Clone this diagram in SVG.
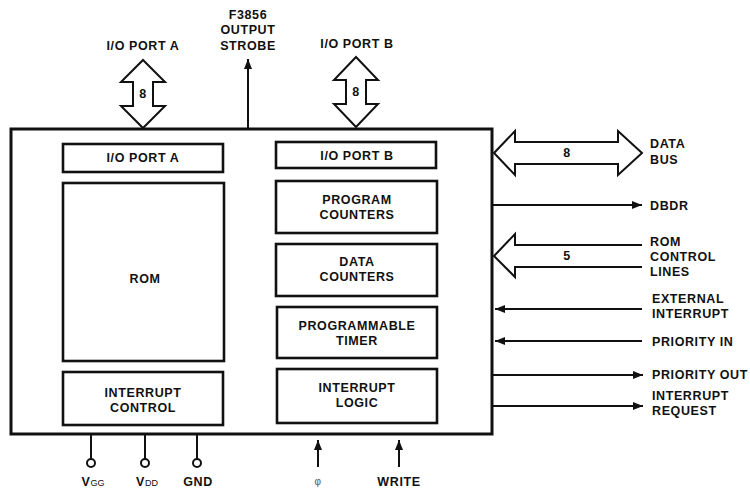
<svg xmlns="http://www.w3.org/2000/svg" width="750" height="488" viewBox="0 0 750 488">
<defs>
<style>
text{font-family:"Liberation Sans",Arial,sans-serif;font-weight:bold;font-size:12.5px;letter-spacing:0.6px;fill:#111}
.c{text-anchor:middle}
.box{fill:#fff;stroke:#111;stroke-width:2.6}
.ln{fill:none;stroke:#111;stroke-width:2}
.bus{fill:#fff;stroke:#111;stroke-width:2;stroke-linejoin:miter}
.sub{font-size:9px;font-weight:normal;letter-spacing:0}
</style>
<marker id="ah" viewBox="0 0 10 8" refX="10" refY="4" markerWidth="10" markerHeight="8" markerUnits="userSpaceOnUse" orient="auto">
<path d="M0,0 L10,4 L0,8 Z" fill="#111"/>
</marker>
</defs>
<rect width="750" height="488" fill="#fff"/>
<g id="chip">
<rect x="11" y="129" width="481" height="305" fill="#fff" stroke="#111" stroke-width="3"/>
</g>
<g id="ioa"><rect class="box" x="63" y="144" width="160" height="28"/><text class="c" x="143" y="162">I/O PORT A</text></g>
<g id="rom"><rect class="box" x="63" y="183" width="161" height="178"/><text class="c" x="145" y="283">ROM</text></g>
<g id="intctl"><rect class="box" x="63" y="372" width="160" height="53"/><text class="c" x="143" y="397">INTERRUPT</text><text class="c" x="143" y="412">CONTROL</text></g>
<g id="iob"><rect class="box" x="276" y="142" width="160" height="26"/><text class="c" x="357" y="160">I/O PORT B</text></g>
<g id="pc"><rect class="box" x="276" y="181" width="161" height="52"/><text class="c" x="357" y="204">PROGRAM</text><text class="c" x="357" y="219">COUNTERS</text></g>
<g id="dc"><rect class="box" x="276" y="244" width="161" height="52"/><text class="c" x="357" y="266">DATA</text><text class="c" x="357" y="281">COUNTERS</text></g>
<g id="timer"><rect class="box" x="277" y="307" width="160" height="51"/><text class="c" x="357" y="330">PROGRAMMABLE</text><text class="c" x="357" y="345">TIMER</text></g>
<g id="intlog"><rect class="box" x="277" y="369" width="160" height="54"/><text class="c" x="357" y="392">INTERRUPT</text><text class="c" x="357" y="407">LOGIC</text></g>
<g id="connectors">
<polygon class="bus" points="143,60 165,82 153,82 153,106 165,106 143,128 121,106 133,106 133,82 121,82"/>
<polygon class="bus" points="356,57 378,80 366,80 366,104 378,104 356,127 334,104 346,104 346,80 334,80"/>
<line class="ln" x1="248" y1="128" x2="248" y2="59" marker-end="url(#ah)"/>
<polygon class="bus" points="494,153 515,131 515,142 618,142 618,131 642,153 618,175 618,164 515,164 515,175"/>
<line class="ln" x1="493" y1="205" x2="642" y2="205" marker-end="url(#ah)"/>
<polyline class="bus" points="642,245 515,245 515,234 494,256 515,277 515,267 642,267"/>
<line class="ln" x1="642" y1="309" x2="495" y2="309" marker-end="url(#ah)"/>
<line class="ln" x1="642" y1="341" x2="495" y2="341" marker-end="url(#ah)"/>
<line class="ln" x1="493" y1="375" x2="643" y2="375" marker-end="url(#ah)"/>
<line class="ln" x1="493" y1="406" x2="643" y2="406" marker-end="url(#ah)"/>
<line class="ln" x1="91" y1="434" x2="91" y2="459"/>
<circle cx="91" cy="463" r="4" fill="#fff" stroke="#111" stroke-width="2"/>
<line class="ln" x1="145" y1="434" x2="145" y2="459"/>
<circle cx="145" cy="463" r="4" fill="#fff" stroke="#111" stroke-width="2"/>
<line class="ln" x1="197" y1="434" x2="197" y2="459"/>
<circle cx="197" cy="463" r="4" fill="#fff" stroke="#111" stroke-width="2"/>
<line class="ln" x1="318" y1="467" x2="318" y2="440" marker-end="url(#ah)"/>
<line class="ln" x1="399" y1="467" x2="399" y2="440" marker-end="url(#ah)"/>
</g>
<g id="labels">
<text class="c" x="143" y="50">I/O PORT A</text>
<text class="c" x="248" y="19">F3856</text>
<text class="c" x="248" y="34">OUTPUT</text>
<text class="c" x="248" y="50">STROBE</text>
<text class="c" x="357" y="48">I/O PORT B</text>
<text class="c" x="143" y="98">8</text>
<text class="c" x="356" y="96">8</text>
<text class="c" x="567" y="157">8</text>
<text class="c" x="567" y="260">5</text>
<text x="650" y="148">DATA</text>
<text x="650" y="164">BUS</text>
<text x="650" y="210">DBDR</text>
<text x="650" y="246">ROM</text>
<text x="650" y="261">CONTROL</text>
<text x="650" y="276">LINES</text>
<text x="652" y="303">EXTERNAL</text>
<text x="652" y="318">INTERRUPT</text>
<text x="652" y="346">PRIORITY IN</text>
<text x="652" y="379">PRIORITY OUT</text>
<text x="652" y="400">INTERRUPT</text>
<text x="652" y="415">REQUEST</text>
<text class="c" x="93" y="486">V<tspan class="sub">GG</tspan></text>
<text class="c" x="147" y="486">V<tspan class="sub">DD</tspan></text>
<text class="c" x="198" y="486">GND</text>
<text class="c" x="318" y="485" style="font-size:10px;font-weight:normal;fill:#555">φ</text>
<text class="c" x="399" y="486">WRITE</text>
</g>
</svg>
